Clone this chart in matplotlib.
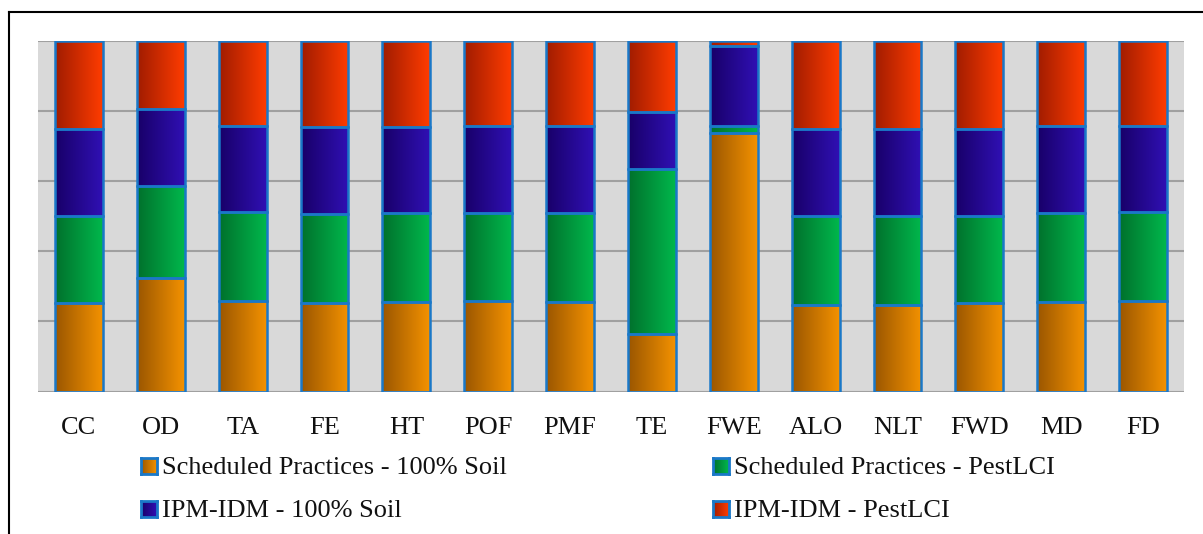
import numpy as np
import matplotlib
matplotlib.use("Agg")
from matplotlib import pyplot as plt
from matplotlib.lines import Line2D
from matplotlib.colors import to_rgb

# impact categories
categories = ['CC', 'OD', 'TA', 'FE', 'HT', 'POF', 'PMF', 'TE', 'FWE',
              'ALO', 'NLT', 'FWD', 'MD', 'FD']

# share of each scenario per category (%)
sp_soil = [25.2, 32.5, 25.9, 25.2, 25.4, 25.9, 25.5, 16.3, 73.7, 24.8, 24.8, 25.2, 25.4, 25.9]
sp_pest = [25.0, 26.1, 25.4, 25.3, 25.4, 24.9, 25.3, 47.3, 2.1, 25.3, 25.3, 24.9, 25.4, 25.3]
ipm_soil = [24.8, 22.0, 24.5, 24.9, 24.8, 24.9, 24.9, 16.2, 22.8, 24.9, 24.9, 24.9, 24.9, 24.5]
ipm_pest = [25.0, 19.4, 24.2, 24.6, 24.4, 24.3, 24.3, 20.2, 1.4, 25.0, 25.0, 25.0, 24.3, 24.3]

series = [
    ('Scheduled Practices - 100% Soil', sp_soil, '#9a5600', '#f49200'),
    ('Scheduled Practices - PestLCI', sp_pest, '#00702c', '#00b84c'),
    ('IPM-IDM - 100% Soil', ipm_soil, '#180068', '#3010b4'),
    ('IPM-IDM - PestLCI', ipm_pest, '#a01c00', '#ff3c00'),
]

edge = '#1a78c8'
width = 0.585
serif = ['Liberation Serif', 'DejaVu Serif']
W, H = 1203, 534


def shade(c0, c1, n=128):
    t = np.linspace(0, 1, n)
    g = np.outer(1 - t, to_rgb(c0)) + np.outer(t, to_rgb(c1))
    return g[np.newaxis, :, :]


fig = plt.figure(figsize=(W / 100, H / 100), dpi=100)
ax = fig.add_axes([38 / W, 1 - 391.5 / H, (1184 - 38) / W, (391.5 - 41) / H])
ax.set_facecolor('#d9d9d9')

x = np.arange(len(categories))
bottom = np.zeros(len(categories))
for name, vals, c0, c1 in series:
    vals = np.array(vals, dtype=float)
    grad = shade(c0, c1)
    for xi, b, v in zip(x, bottom, vals):
        ax.imshow(grad, extent=[xi - width / 2, xi + width / 2, b, b + v],
                  aspect='auto', interpolation='bilinear', zorder=2)
    ax.bar(x, vals, width, bottom=bottom, facecolor='none', edgecolor=edge,
           linewidth=1.8, zorder=3)
    bottom += vals

ax.set_xlim(-0.5, len(categories) - 0.5)
ax.set_ylim(0, 100)
ax.set_yticks(np.arange(0, 101, 20))
ax.set_yticklabels([])
ax.tick_params(axis='y', length=0)
ax.tick_params(axis='x', length=0, pad=18)
ax.set_xticks(x)
ax.set_xticklabels(categories, fontsize=19, family=serif, color='#111111')
ax.grid(axis='y', color='#a0a0a0', linewidth=1.5, zorder=1)
ax.set_axisbelow(True)
for s in ax.spines.values():
    s.set_visible(False)

# legend: two columns, two rows, shaded squares
leg_x = [141, 713]
leg_y = [466, 509]
slots = [(0, 0), (1, 0), (0, 1), (1, 1)]
for (name, _, c0, c1), (col, row) in zip(series, slots):
    px, py = leg_x[col], leg_y[row]
    box = [px / W, 1 - (py + 8) / H, 16 / W, 16 / H]
    kax = fig.add_axes(box)
    kax.imshow(shade(c0, c1), extent=[0, 1, 0, 1], aspect='auto',
               interpolation='bilinear')
    kax.set_xticks([])
    kax.set_yticks([])
    for s in kax.spines.values():
        s.set_edgecolor(edge)
        s.set_linewidth(2.0)
    fig.text((px + 21) / W, 1 - (py + 2) / H, name, ha='left', va='center',
             fontsize=19, family=serif, color='#111111')

# outer frame (left and top)
fig.add_artist(Line2D([9 / W, 9 / W], [0, 1 - 12 / H], color='black', linewidth=1.5))
fig.add_artist(Line2D([9 / W, 1], [1 - 12 / H, 1 - 12 / H], color='black', linewidth=1.5))

fig.savefig('out.png', dpi=100, facecolor='white')
